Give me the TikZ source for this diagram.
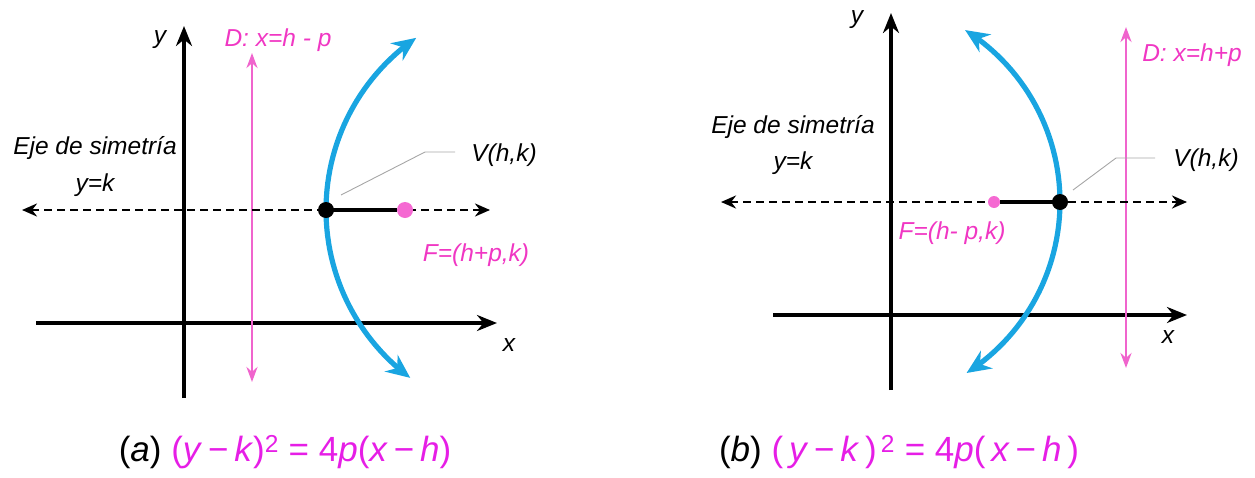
\documentclass[tikz,border=0pt]{standalone}
\usepackage{fontspec}
\setmainfont{Liberation Sans}
\usetikzlibrary{arrows.meta, positioning}

\definecolor{parabblue}{RGB}{25,165,225}
\definecolor{dirpink}{RGB}{240,100,205}
\definecolor{textpink}{RGB}{240,55,195}
\definecolor{focuspink}{RGB}{245,105,210}
\definecolor{eqmagenta}{RGB}{230,30,230}

\begin{document}
\begin{tikzpicture}[
    x=1pt, y=-1pt,
    axisline/.style={-{Stealth[length=20pt, width=16pt]}, line width=3.6pt},
    symline/.style={{Stealth[length=15pt, width=13pt]}-{Stealth[length=15pt, width=13pt]}, line width=2.8pt, dash pattern=on 8pt off 5pt},
    dirline/.style={{Stealth[length=15pt, width=11pt]}-{Stealth[length=15pt, width=11pt]}, line width=2.8pt, draw=dirpink},
    parab/.style={{Stealth[length=24pt, width=21pt]}-{Stealth[length=24pt, width=21pt]}, line width=5.2pt, draw=parabblue},
    segline/.style={line width=3.6pt},
    leader/.style={draw=gray!70, line width=0.9pt},
    dot/.style={circle, inner sep=0pt, minimum size=16pt},
    lbl/.style={font=\fontsize{24.5}{27}\selectfont\itshape, inner sep=1pt},
    pinklbl/.style={lbl, text=textpink},
    caption/.style={font=\fontsize{35}{38}\selectfont, inner sep=0pt},
]
\useasboundingbox (0,0) rectangle (1255,477);

%% PANEL (a)
    % axes
    \coordinate (xA0) at (36,323);  \coordinate (xA1) at (497,323);
    \coordinate (yA0) at (184,398); \coordinate (yA1) at (184,26);
    \draw[axisline] (xA0) -- (xA1);
    \draw[axisline] (yA0) -- (yA1);
    \node[lbl] (xlabA) at (509,345) {x};
    \node[lbl] (ylabA) at (160,40) {y};

    % directrix
    \coordinate (dA0) at (252,53); \coordinate (dA1) at (252,382);
    \draw[dirline] (dA0) -- (dA1);
    \node[pinklbl] (dlabA) at (278,40) {D: x=h - p};

    % axis of symmetry
    \coordinate (sA0) at (22,210); \coordinate (sA1) at (490,210);
    \draw[symline] (sA0) -- (sA1);
    \node[lbl] (ejeA) at (95,148) {Eje de simetría};
    \node[lbl] (ykA) at (95,185) {y=k};

    % parabola
    \draw[parab] plot[domain=-55.3:53.3, samples=60, variable=\t] ({535.4-209.4*cos(\t)},{210+209.4*sin(\t)});

    % vertex and focus
    \node[dot, fill=focuspink] (focA) at (405,210) {};
    \node[dot, fill=black] (vertA) at (326,210) {};
    \draw[segline] (vertA.center) -- (focA.west);
    \node[pinklbl] (flabA) at (476,255) {F=(h+p,k)};
    \node[lbl] (vlabA) at (504,155) {V(h,k)};
    \coordinate (ldA) at (341,195); \coordinate (bendA) at (425,152); \coordinate (endA) at (455,152);
    \draw[leader] (ldA) -- (bendA) -- (endA);

    % caption
    \node[caption] (capA) at (285,452) {(\textit{a}) \textcolor{eqmagenta}{(\textit{y}\,−\,\textit{k})\textsuperscript{2} = 4\textit{p}(\textit{x}\,−\,\textit{h})}};

%% PANEL (b)
    % axes
    \coordinate (xB0) at (773,315);  \coordinate (xB1) at (1187,315);
    \coordinate (yB0) at (891,390);  \coordinate (yB1) at (891,13);
    \draw[axisline] (xB0) -- (xB1);
    \draw[axisline] (yB0) -- (yB1);
    \node[lbl] (xlabB) at (1168,337) {x};
    \node[lbl] (ylabB) at (857,20) {y};

    % directrix
    \coordinate (dB0) at (1126,27); \coordinate (dB1) at (1126,368);
    \draw[dirline] (dB0) -- (dB1);
    \node[pinklbl] (dlabB) at (1192,55) {D: x=h+p};

    % axis of symmetry
    \coordinate (sB0) at (721,202); \coordinate (sB1) at (1187,202);
    \draw[symline] (sB0) -- (sB1);
    \node[lbl] (ejeB) at (793,127) {Eje de simetría};
    \node[lbl] (ykB) at (793,163) {y=k};

    % parabola
    \draw[parab] plot[domain=-57.8:57.3, samples=60, variable=\t] ({856.8+203.2*cos(\t)},{202+203.2*sin(\t)});

    % vertex and focus
    \node[dot, fill=focuspink, minimum size=12pt] (focB) at (994,202) {};
    \node[dot, fill=black] (vertB) at (1060,202) {};
    \draw[segline] (focB.east) -- (vertB.center);
    \node[pinklbl] (flabB) at (952,233) {F=(h- p,k)};
    \node[lbl] (vlabB) at (1206,160) {V(h,k)};
    \coordinate (ldB) at (1073,190); \coordinate (bendB) at (1116,158); \coordinate (endB) at (1155,158);
    \draw[leader] (ldB) -- (bendB) -- (endB);

    % caption
    \node[caption] (capB) at (899,452) {(\textit{b}) \textcolor{eqmagenta}{(\,\textit{y}\,−\,\textit{k}\,)\textsuperscript{\,2} = 4\textit{p}(\,\textit{x}\,−\,\textit{h}\,)}};

\end{tikzpicture}
\end{document}
